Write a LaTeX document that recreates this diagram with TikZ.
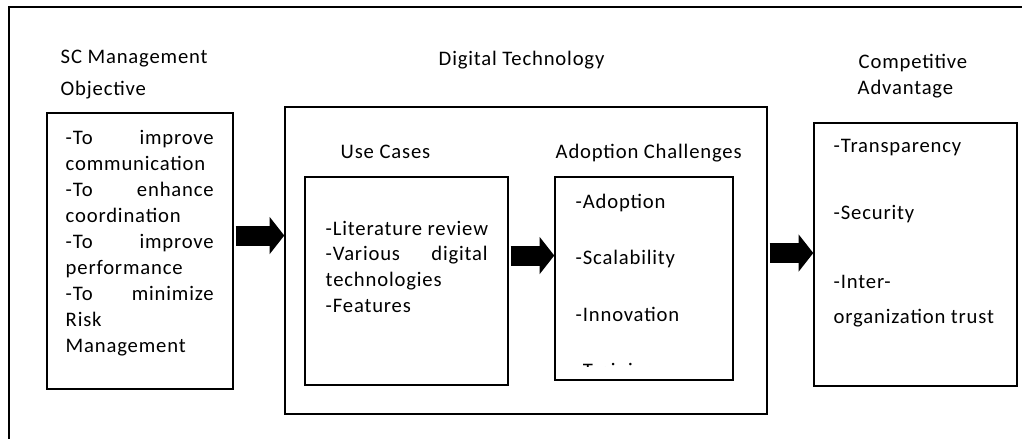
\documentclass[tikz,border=0pt]{standalone}
\usepackage{fontspec}
\setmainfont[LetterSpace=4]{Carlito}
\usetikzlibrary{arrows.meta,fit}
\begin{document}
\begin{tikzpicture}[x=0.75pt,y=-0.75pt,line width=1.1pt,
	box/.style={draw,inner sep=0pt},
	txt/.style={anchor=base west,inner sep=0pt,font=\fontsize{15.5pt}{19pt}\selectfont},
	bigarrow/.style={line width=15pt,-{Triangle[length=11pt,width=28pt,line width=0pt]},shorten <=1.5pt}]
	\useasboundingbox (0,0) rectangle (1022,439);
	\clip (0,0) rectangle (1022,439);
	\draw (9,460) -- (9,7) -- (1040,7);
	% boxes
	\node[box,fit={(47,113) (233,389)}] (obj) {};
	\node[box,fit={(285,107) (767,414)}] (dt) {};
	\node[box,fit={(305,177) (508,385)}] (uc) {};
	\node[box,fit={(555,177) (733,380)}] (ac) {};
	\node[box,fit={(814,123) (1017,386)}] (ca) {};
	% headings
	\node[txt] (h1) at (60,63) {SC Management};
	\node[txt] (h2) at (60,95) {Objective};
	\node[txt] (h3) at (438,65) {Digital Technology};
	\node[txt] (h4) at (340,158) {Use Cases};
	\node[txt] (h5) at (555,158) {Adoption Challenges};
	\node[txt] (h6) at (858,68) {Competitive};
	\node[txt] (h7) at (857,94) {Advantage};
	% box texts
	\foreach \t [count=\i] in {{\hbox to 111pt{-To\hfill improve}},communication,
			{\hbox to 111pt{-To\hfill enhance}},coordination,{\hbox to 111pt{-To\hfill improve}},
			performance,{\hbox to 111pt{-To\hfill minimize}},Risk,Management}
		\node[txt] (o\i) at (65,{144+26*(\i-1)}) {\t};
	\foreach \t [count=\i] in {-Literature review,{\hbox to 121.5pt{-Various\hfill digital}},
			technologies,-Features}
		\node[txt] (u\i) at (325,{235+25.7*(\i-1)}) {\t};
	\begin{scope}
		\clip (555,177) rectangle (733,366);
		\foreach \t [count=\i] in {-Adoption,-Scalability,-Innovation,-Training}
			\node[txt] (a\i) at (575,{208+56.5*(\i-1)}) {\t};
	\end{scope}
	\node[txt] (c1) at (833,152) {-Transparency};
	\node[txt] (c2) at (833,219) {-Security};
	\node[txt] (c3) at (833,288) {-Inter-};
	\node[txt] (c4) at (833,323) {organization trust};
	% arrows
	\draw[bigarrow] ([yshift=11.6pt]obj.east) -- ([yshift=11.6pt]obj.east -| dt.west);
	\draw[bigarrow] ([yshift=19.1pt]uc.east) -- ([yshift=19.1pt]uc.east -| ac.west);
	\draw[bigarrow] ([yshift=5.6pt]dt.east) -- ([yshift=5.6pt]dt.east -| ca.west);
\end{tikzpicture}
\end{document}
